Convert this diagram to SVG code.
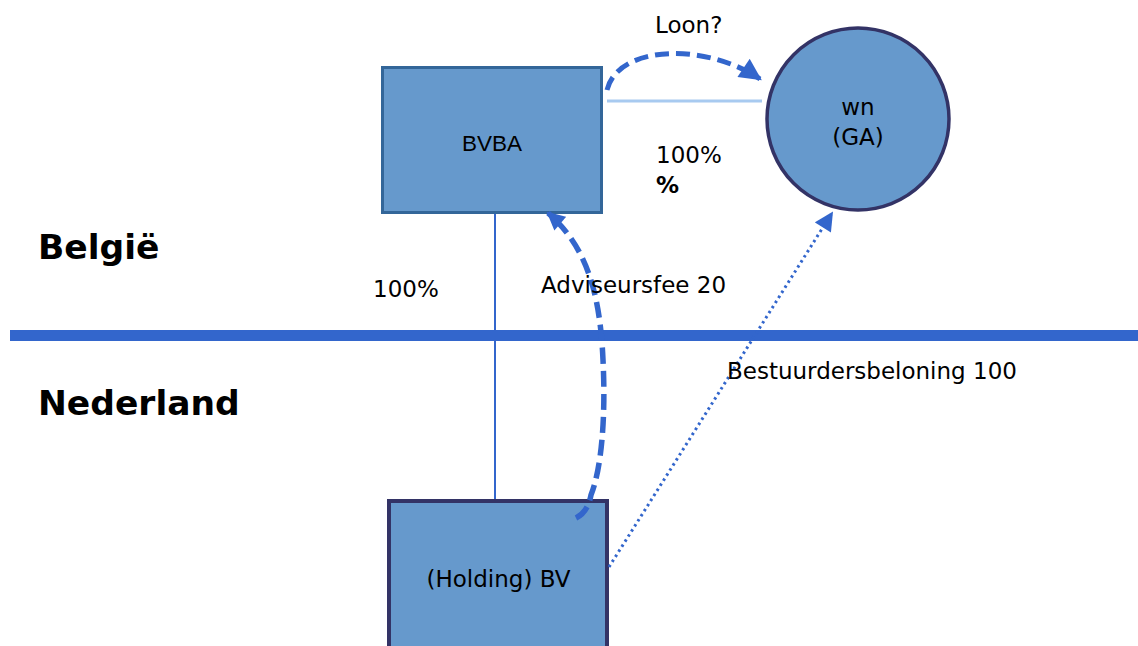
<svg xmlns="http://www.w3.org/2000/svg" width="1138" height="646" viewBox="0 0 1138 646">
<style>
  .t { font-family: "DejaVu Sans", Verdana, sans-serif; font-size: 23px; fill: #000; }
  .big { font-family: "DejaVu Sans", Verdana, sans-serif; font-size: 34.5px; font-weight: bold; fill: #000; }
  .box { fill: #6699cc; }
  .flow { fill: none; stroke: #3366cc; }
</style>
<defs>
  <marker id="ahBig" viewBox="0 0 10 10" refX="9" refY="5" markerUnits="userSpaceOnUse" markerWidth="24" markerHeight="22" orient="auto">
    <path d="M0,0 L10,5 L0,10 z" fill="#3366cc"/>
  </marker>
  <marker id="ahMid" viewBox="0 0 10 10" refX="9" refY="5" markerUnits="userSpaceOnUse" markerWidth="19" markerHeight="18" orient="auto">
    <path d="M0,0 L10,5 L0,10 z" fill="#3366cc"/>
  </marker>
  <marker id="ahSmall" viewBox="0 0 10 10" refX="9" refY="5" markerUnits="userSpaceOnUse" markerWidth="20" markerHeight="19" orient="auto">
    <path d="M0,0 L10,5 L0,10 z" fill="#3366cc"/>
  </marker>
</defs>
<rect width="1138" height="646" fill="#ffffff"/>

<g id="border">
  <rect x="10" y="330" width="1128" height="11" fill="#3366cc"/>
  <text class="big" x="38" y="259">België</text>
  <text class="big" x="38" y="415">Nederland</text>
</g>

<g id="bvba">
  <rect class="box" x="382.5" y="67.5" width="219" height="145" stroke="#336699" stroke-width="3"/>
  <text x="492" y="151" text-anchor="middle" font-family="'Liberation Sans', Arial, sans-serif" font-size="22.5" fill="#000">BVBA</text>
</g>

<g id="wn">
  <circle class="box" cx="858" cy="119" r="91" stroke="#333366" stroke-width="3.5"/>
  <text class="t" x="858" y="115" text-anchor="middle">wn</text>
  <text class="t" x="858" y="145" text-anchor="middle">(GA)</text>
</g>

<g id="holding">
  <rect class="box" x="389" y="501" width="218" height="160" stroke="#333366" stroke-width="4"/>
  <text class="t" x="498.5" y="587" text-anchor="middle" font-size="23.5">(Holding) BV</text>
</g>

<g id="connectors">
  <line x1="495" y1="214" x2="495" y2="499" stroke="#3366cc" stroke-width="2"/>
  <line x1="607" y1="101" x2="762" y2="101" stroke="#a8caf0" stroke-width="3"/>
  <path class="flow" d="M607,90 C618,45 705,42 760,79" stroke-width="5" stroke-dasharray="14 7" marker-end="url(#ahBig)"/>
  <path class="flow" d="M576,518 C584,514 589,506 591,495 C601,470 606,420 603,360 C600,290 585,245 548,213" stroke-width="5.5" stroke-dasharray="16 7" marker-end="url(#ahMid)"/>
  <path class="flow" d="M609,567 L832,213" stroke-width="3" stroke-dasharray="2.5 3.5" marker-end="url(#ahSmall)"/>
  <text class="t" x="655" y="33">Loon?</text>
  <text class="t" x="656" y="163">100%</text>
  <text class="t" x="656" y="193" font-weight="bold">%</text>
  <text class="t" x="373" y="297">100%</text>
  <text class="t" x="541" y="293">Adviseursfee 20</text>
  <text class="t" x="727" y="379">Bestuurdersbeloning 100</text>
</g>
</svg>
